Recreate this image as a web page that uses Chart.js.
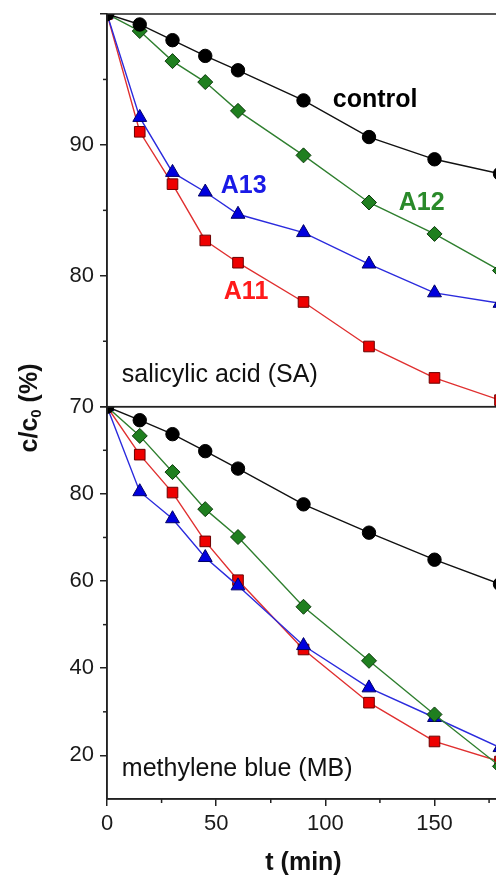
<!DOCTYPE html>
<html lang="en">
<head>
<meta charset="UTF-8">
<title>c/c0 vs t</title>
<script src="https://cdn.jsdelivr.net/npm/chart.js"></script>
<style>
  html, body { margin: 0; padding: 0; background: #fff; overflow: hidden; }
  #wrap { position: relative; width: 509px; height: 876px; overflow: hidden; }
  canvas { position: absolute; left: 0; top: 0; }
</style>
</head>
<body>
<div id="wrap">
  <canvas id="mbChart" width="509" height="876"></canvas>
  <canvas id="saChart" width="509" height="422"></canvas>
</div>
<script>
var times = [0, 15, 30, 45, 60, 90, 120, 150, 180];

// salicylic acid (SA), c/c0 in %
var saControl = [100, 99.2, 98.0, 96.8, 95.7, 93.4, 90.6, 88.9, 87.8];
var saA12     = [100, 98.7, 96.4, 94.8, 92.6, 89.2, 85.6, 83.2, 80.4];
var saA13     = [100, 92.1, 87.9, 86.4, 84.7, 83.3, 80.9, 78.7, 77.9];
var saA11     = [100, 91.0, 87.0, 82.7, 81.0, 78.0, 74.6, 72.2, 70.5];

// methylene blue (MB), c/c0 in %
var mbControl = [100, 96.9, 93.7, 89.8, 85.8, 77.6, 71.1, 64.9, 59.3];
var mbA12     = [100, 93.3, 85.0, 76.5, 70.1, 54.1, 41.7, 29.4, 17.5];
var mbA13     = [100, 80.5, 74.3, 65.4, 58.9, 45.2, 35.5, 28.7, 21.8];
var mbA11     = [100, 89.0, 80.3, 69.1, 60.2, 44.3, 32.1, 23.2, 18.6];

var xTicks  = [0, 50, 100, 150];
var xMinor  = [25, 75, 125, 175];
var saTicks = [70, 80, 90, 100];
var saMinor = [75, 85, 95];
var mbTicks = [20, 40, 60, 80, 100];
var mbMinor = [30, 50, 70, 90];

var FONT = '"Liberation Sans", Arial, sans-serif';
var AXIS = '#222';

var looks = {
  control: { line: '#111111', fill: '#000000', edge: '#000000', shape: 'circle',   r: 6.7 },
  A12:     { line: '#2f7f2f', fill: '#1f7f1f', edge: '#0c3a0c', shape: 'rectRot',  r: 7.5 },
  A13:     { line: '#2b2bdd', fill: '#0000dd', edge: '#000066', shape: 'triangle', r: 8 },
  A11:     { line: '#e03030', fill: '#ee0000', edge: '#6a0000', shape: 'rect',     r: 7.5 }
};

function makeSet(name, values) {
  var st = looks[name];
  return {
    label: name,
    data: times.map(function (t, i) { return { x: t, y: values[i] }; }),
    borderColor: st.line,
    borderWidth: 1.4,
    pointStyle: st.shape,
    pointRadius: st.r,
    pointBackgroundColor: st.fill,
    pointBorderColor: st.edge,
    pointBorderWidth: 1,
    tension: 0
  };
}

function noPad(s) {
  s.paddingTop = 0; s.paddingBottom = 0; s.paddingLeft = 0; s.paddingRight = 0;
}

// frame + minor ticks
var framePlugin = {
  id: 'frame',
  afterDatasetsDraw: function (chart, args, opts) {
    var ctx = chart.ctx, a = chart.chartArea;
    ctx.save();
    ctx.strokeStyle = AXIS;
    ctx.lineWidth = 1.5;
    ctx.strokeRect(a.left, a.top, a.right - a.left, a.bottom - a.top);
    var ys = chart.scales.y;
    (opts.yMinor || []).forEach(function (v) {
      var p = ys.getPixelForValue(v);
      ctx.beginPath(); ctx.moveTo(a.left - 4, p); ctx.lineTo(a.left, p); ctx.stroke();
    });
    var xs = chart.scales.x;
    (opts.xMinor || []).forEach(function (v) {
      var p = xs.getPixelForValue(v);
      ctx.beginPath(); ctx.moveTo(p, a.bottom); ctx.lineTo(p, a.bottom + 4); ctx.stroke();
    });
    ctx.restore();
  }
};

// text notes placed in data coordinates
var notesPlugin = {
  id: 'notes',
  afterDraw: function (chart, args, opts) {
    var ctx = chart.ctx;
    ctx.save();
    ctx.textAlign = 'left';
    ctx.textBaseline = 'alphabetic';
    (opts.items || []).forEach(function (n) {
      ctx.font = n.font;
      ctx.fillStyle = n.color;
      ctx.fillText(n.text, chart.scales.x.getPixelForValue(n.t), chart.scales.y.getPixelForValue(n.v));
    });
    if (opts.yTitle) {
      ctx.translate(30, 408);
      ctx.rotate(-Math.PI / 2);
      ctx.fillStyle = '#111';
      ctx.textBaseline = 'middle';
      var big = 'bold 25px ' + FONT, small = 'bold 15px ' + FONT;
      ctx.font = big;
      var w1 = ctx.measureText('c/c').width, w3 = ctx.measureText(' (%)').width;
      ctx.font = small;
      var w2 = ctx.measureText('0').width;
      var x0 = -(w1 + w2 + w3) / 2;
      ctx.font = big; ctx.fillText('c/c', x0, 0);
      ctx.font = small; ctx.fillText('0', x0 + w1, 7);
      ctx.font = big; ctx.fillText(' (%)', x0 + w1 + w2, 0);
    }
    ctx.restore();
  }
};

function yScale(min, max, tickList) {
  return {
    type: 'linear', min: min, max: max,
    afterFit: function (s) { s.width = 107; noPad(s); },
    afterBuildTicks: function (s) { s.ticks = tickList.map(function (v) { return { value: v }; }); },
    ticks: {
      callback: function (v) { return v === 100 ? '' : v; },
      font: { family: FONT, size: 22 }, color: '#1a1a1a', padding: 6
    },
    grid: { drawOnChartArea: false, tickLength: 7, color: AXIS, lineWidth: 1.5 },
    border: { color: AXIS, width: 1.5 }
  };
}

var boldLabel = 'bold 25px ' + FONT;

new Chart(document.getElementById('saChart'), {
  type: 'line',
  data: {
    datasets: [makeSet('control', saControl), makeSet('A12', saA12), makeSet('A13', saA13), makeSet('A11', saA11)]
  },
  options: {
    responsive: false, animation: false, devicePixelRatio: 1,
    layout: { padding: { left: 0, right: 5, top: 14, bottom: 15.3 } },
    scales: {
      x: { type: 'linear', min: 0, max: 180, display: false, afterFit: noPad },
      y: yScale(70, 100, saTicks)
    },
    plugins: {
      legend: { display: false }, tooltip: { enabled: false },
      frame: { yMinor: saMinor },
      notes: { items: [
        { text: 'control', t: 103.4, v: 92.9, color: '#000', font: boldLabel },
        { text: 'A12', t: 133.6, v: 85.0, color: '#2a8a2a', font: boldLabel },
        { text: 'A13', t: 52.1, v: 86.3, color: '#1a1ae6', font: boldLabel },
        { text: 'A11', t: 53.5, v: 78.2, color: '#ff1a1a', font: boldLabel },
        { text: 'salicylic acid (SA)', t: 6.8, v: 71.9, color: '#111', font: '25px ' + FONT }
      ] }
    }
  },
  plugins: [framePlugin, notesPlugin]
});

new Chart(document.getElementById('mbChart'), {
  type: 'line',
  data: {
    datasets: [makeSet('control', mbControl), makeSet('A12', mbA12), makeSet('A13', mbA13), makeSet('A11', mbA11)]
  },
  options: {
    responsive: false, animation: false, devicePixelRatio: 1,
    layout: { padding: { left: 0, right: 5, top: 406.7, bottom: 0 } },
    scales: {
      x: {
        type: 'linear', min: 0, max: 180,
        afterFit: function (s) { s.height = 77; noPad(s); },
        afterBuildTicks: function (s) { s.ticks = xTicks.map(function (v) { return { value: v }; }); },
        ticks: { font: { family: FONT, size: 22 }, color: '#1a1a1a', padding: 5, maxRotation: 0, autoSkip: false },
        grid: { drawOnChartArea: false, tickLength: 7, color: AXIS, lineWidth: 1.5 },
        border: { color: AXIS, width: 1.5 },
        title: { display: true, text: 't (min)', color: '#111',
                 font: { family: FONT, size: 25, weight: 'bold', lineHeight: 1 }, padding: { top: 0, bottom: 0 } }
      },
      y: yScale(10, 100, mbTicks)
    },
    plugins: {
      legend: { display: false }, tooltip: { enabled: false },
      frame: { yMinor: mbMinor, xMinor: xMinor },
      notes: { yTitle: true, items: [
        { text: 'methylene blue (MB)', t: 6.8, v: 15.3, color: '#111', font: '25px ' + FONT }
      ] }
    }
  },
  plugins: [framePlugin, notesPlugin]
});
</script>
</body>
</html>
